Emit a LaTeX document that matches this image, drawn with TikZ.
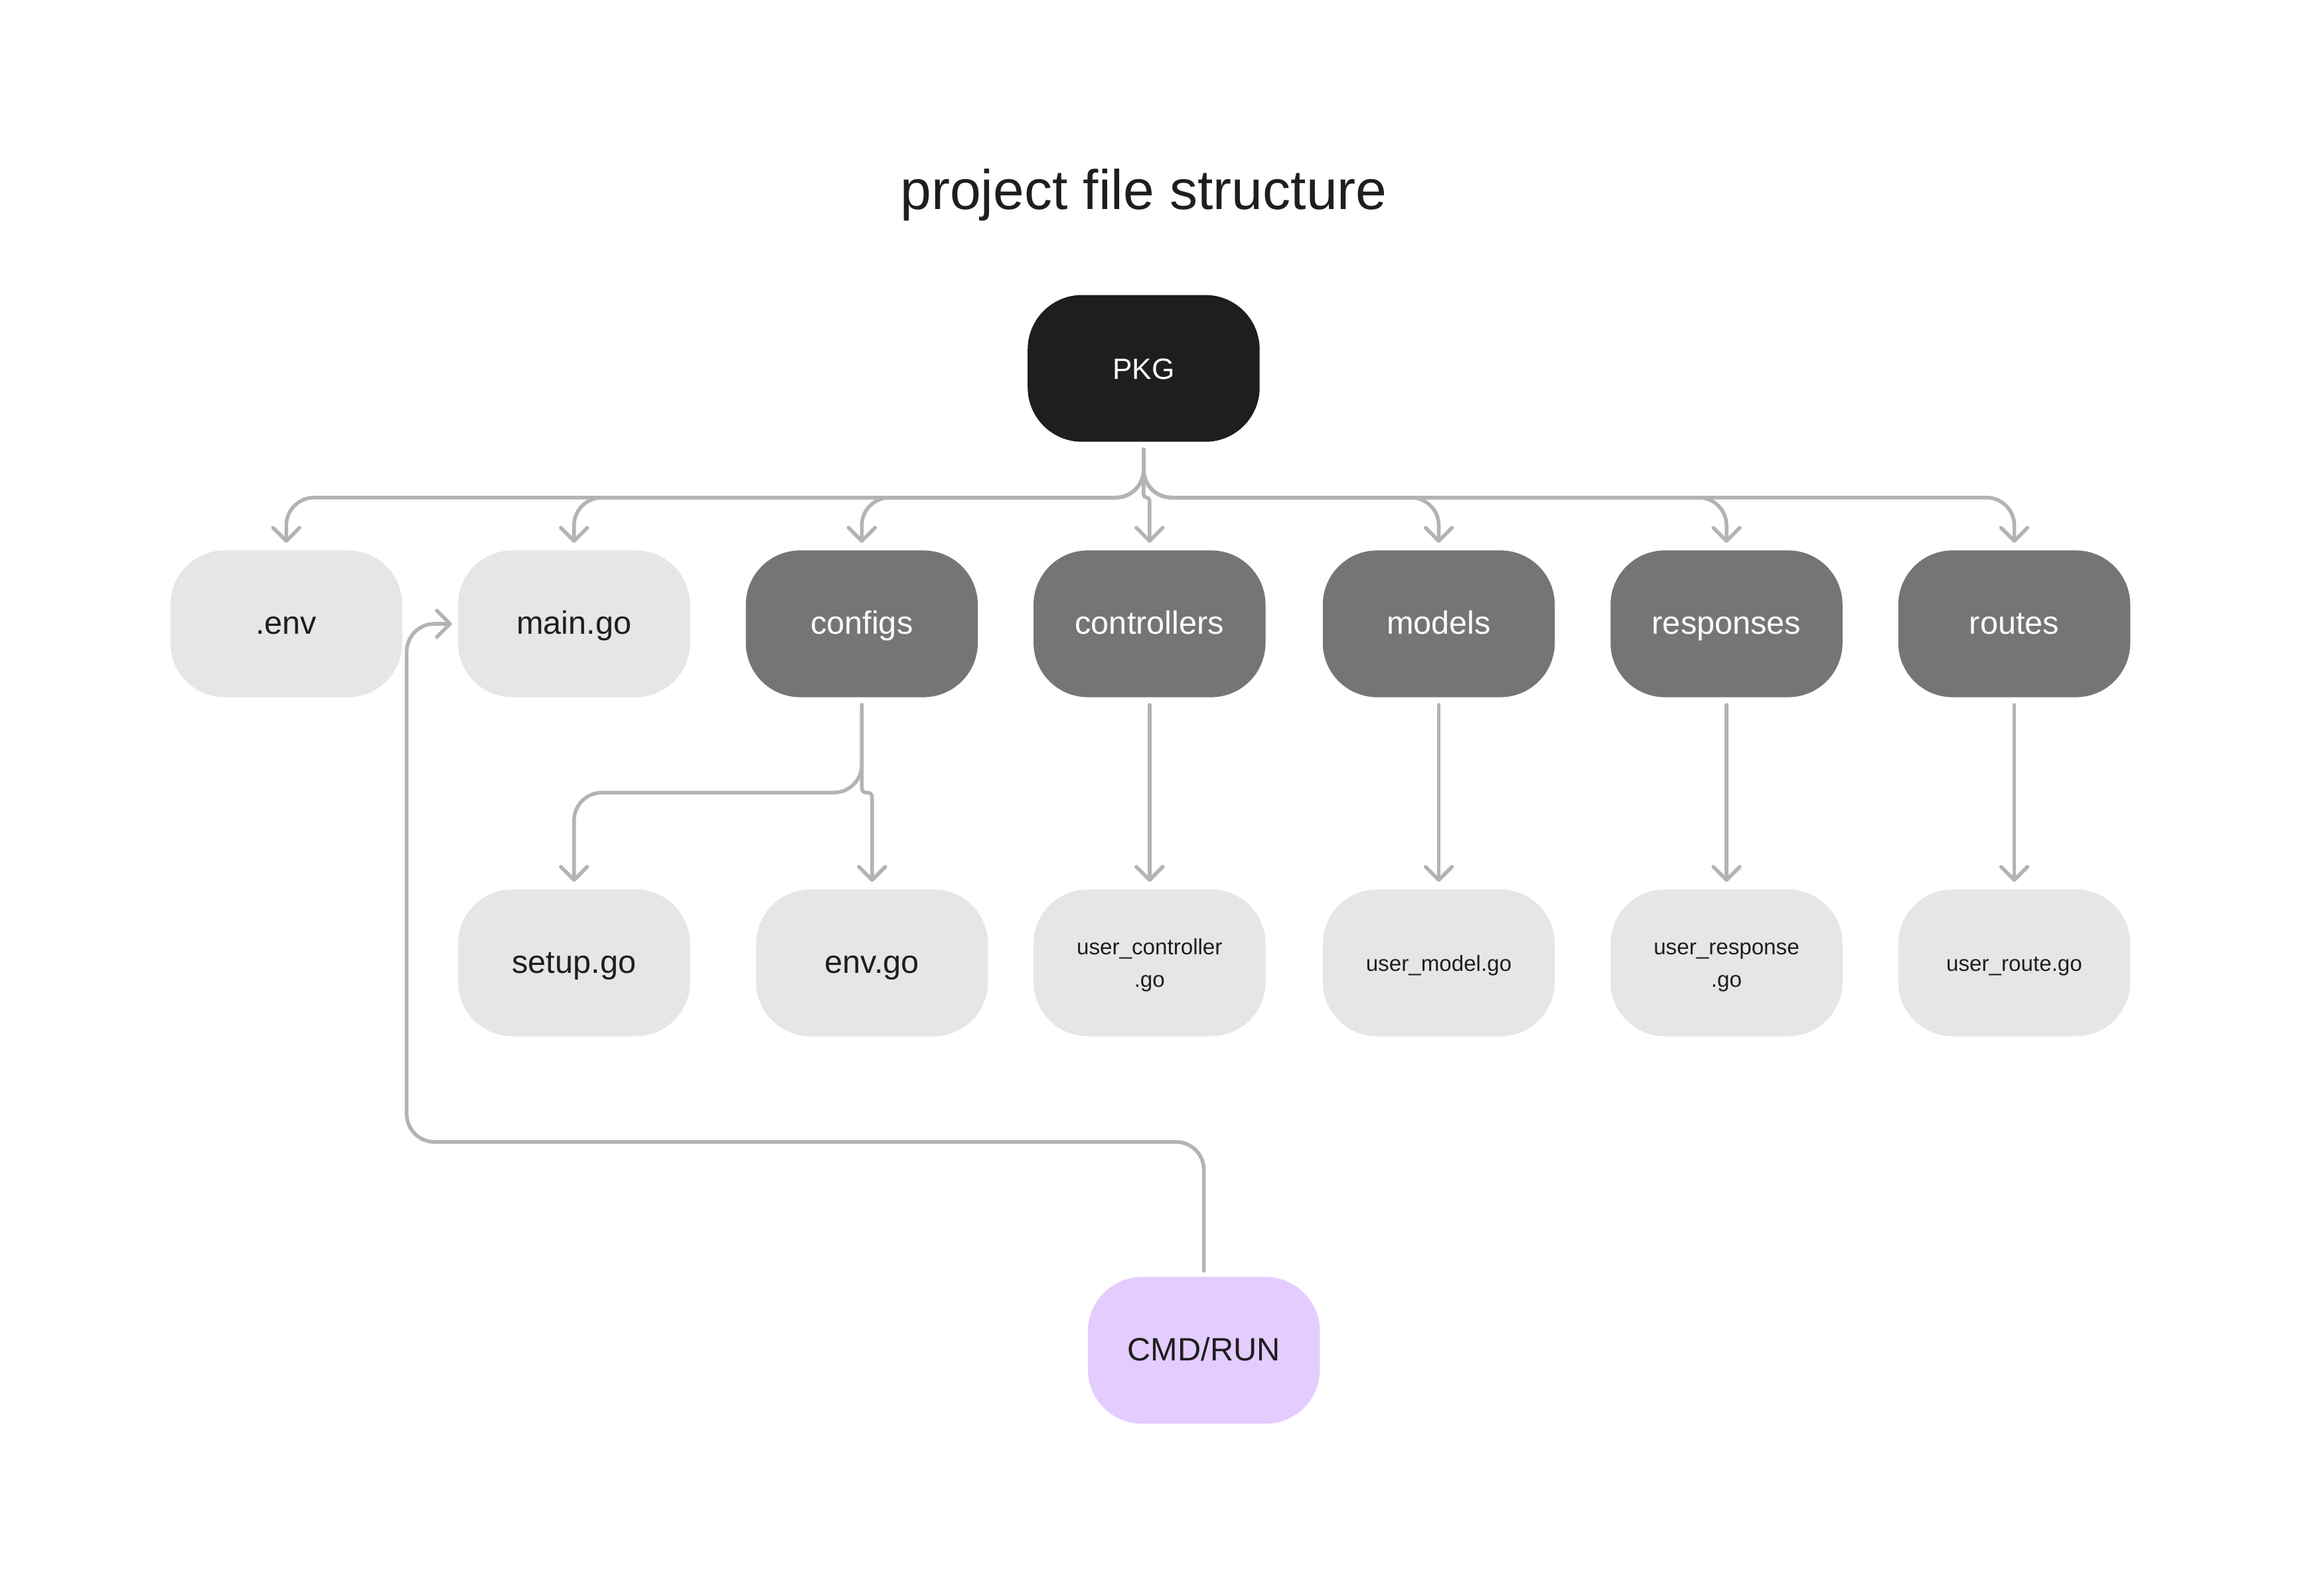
\documentclass[tikz,border=0pt]{standalone}
\usepackage{fontspec}
\setmainfont{Liberation Sans}
\usetikzlibrary{arrows.meta}
\definecolor{pkgfill}{HTML}{1E1E1E}
\definecolor{dirfill}{HTML}{757575}
\definecolor{filefill}{HTML}{E6E6E6}
\definecolor{runfill}{HTML}{E4CCFF}
\definecolor{linegray}{HTML}{B3B3B3}
\definecolor{inktext}{HTML}{1E1E1E}
\tikzset{
	box/.style={rectangle, rounded corners=37pt, minimum width=158pt, minimum height=100pt, inner sep=0pt, align=center, text height=19pt, text depth=4.6pt, font=\fontsize{22}{26}\selectfont},
	pkgbox/.style={box, fill=pkgfill, text=white, font=\fontsize{20}{24}\selectfont},
	dirbox/.style={box, fill=dirfill, text=white},
	filebox/.style={box, fill=filefill, text=inktext},
	smallfile/.style={filebox, text height=15pt, text depth=4pt, font=\fontsize{15}{22}\selectfont},
	smalltwo/.style={smallfile, text height=37pt, text depth=4pt},
	runbox/.style={box, fill=runfill, text=inktext},
	conn/.style={draw=linegray, line width=2.5pt, line cap=round, rounded corners=19pt, -{Straight Barb[length=9pt,width=18pt,round]}}
}

\begin{document}
\begin{tikzpicture}[x=1pt, y=-1pt]
			%%%%% START %%%%%
			
			\useasboundingbox (0, 0) rectangle (1568, 1087);
			
			\node[font=\fontsize{38}{44}\selectfont, text=inktext] (title) at (779, 133) {project file structure};
			
			\node[pkgbox] (pkg) at (779, 251) {PKG};
			
			% folders and top files
			\node[filebox] (env) at (195, 425) {.env};
			\node[filebox] (main) at (391, 425) {main.go};
			\node[dirbox] (configs) at (587, 425) {configs};
			\node[dirbox] (controllers) at (783, 425) {controllers};
			\node[dirbox] (models) at (980, 425) {models};
			\node[dirbox] (responses) at (1176, 425) {responses};
			\node[dirbox] (routes) at (1372, 425) {routes};
			
			% files inside the folders
			\node[filebox] (setup) at (391, 656) {setup.go};
			\node[filebox] (envgo) at (594, 656) {env.go};
			\node[smalltwo] (userctrl) at (783, 656) {user\_controller\\.go};
			\node[smallfile] (usermodel) at (980, 656) {user\_model.go};
			\node[smalltwo] (userresp) at (1176, 656) {user\_response\\.go};
			\node[smallfile] (userroute) at (1372, 656) {user\_route.go};
			
			\node[runbox] (cmd) at (820, 920) {CMD/RUN};
			
			\coordinate (bus) at (779, 339);
			\coordinate (cbus) at (587, 540);
			\coordinate (loop) at (277, 778);
			
			% PKG to its children
			\foreach \n in {env, main, configs, models, responses, routes}
				\draw[conn] ([yshift=-5pt]pkg.south) -- (bus) -| ([yshift=5pt]\n.north);
			\draw[conn, rounded corners=2pt] ([yshift=-5pt]pkg.south) -- (bus) -| ([yshift=5pt]controllers.north);
			
			% configs
			\draw[conn] ([yshift=-5pt]configs.south) -- (cbus) -| ([yshift=5pt]setup.north);
			\draw[conn, rounded corners=3pt] ([yshift=-5pt]configs.south) -- (cbus) -| ([yshift=5pt]envgo.north);
			
			% the other folders
			\foreach \d/\f in {controllers/userctrl, models/usermodel, responses/userresp, routes/userroute}
				\draw[conn] ([yshift=-5pt]\d.south) -- ([yshift=5pt]\f.north);
			
			% run entry
			\draw[conn] ([yshift=4pt]cmd.north) |- (loop) |- ([xshift=-4pt]main.west);
			
			%%%%% END %%%%%
\end{tikzpicture}
\end{document}
